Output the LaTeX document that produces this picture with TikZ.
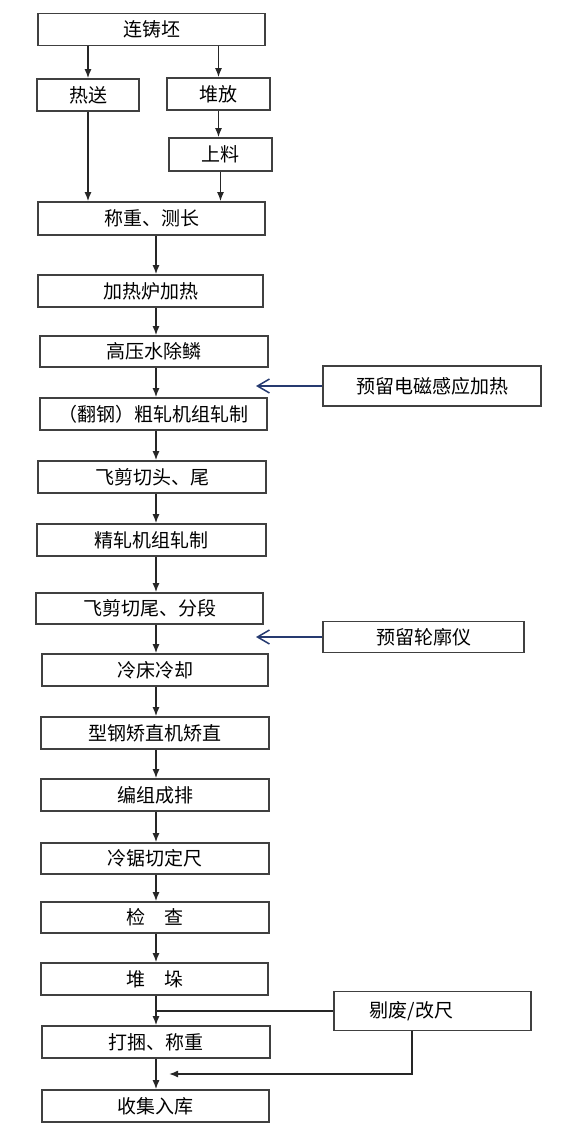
\documentclass[tikz,border=0pt]{standalone}
\usepackage{fontspec}
\usepackage{xcolor}
\usepackage{tikz}
\usetikzlibrary{arrows.meta}
\newfontfamily\cjk{Noto Sans CJK SC}
\definecolor{navyline}{RGB}{38,58,112}

\begin{document}
\begin{tikzpicture}[x=1pt,y=-1pt,
    box/.style={draw=black!75,line width=1.6pt,minimum height=32pt,inner sep=0pt,font=\cjk\fontsize{19}{21}\selectfont},
    arr/.style={line width=1.5pt,draw=black!85,-{Latex[length=9pt,width=7pt]}},
    sidearr/.style={line width=1.5pt,draw=navyline,-{Straight Barb[length=12pt,width=14pt]}}]
            \useasboundingbox (0,0) rectangle (562,1132);
            \coordinate (spine) at (156,0);
            \coordinate (sidein) at (256,0);
            \coordinate (back) at (169,1074);

            % main line
            \node[box,minimum width=227pt] (lianzhu) at (151.5,29.5) {连铸坯};
            \node[box,minimum width=102pt] (resong) at (88,95) {热送};
            \node[box,minimum width=103pt] (duifang) at (218.5,94) {堆放};
            \node[box,minimum width=103pt,minimum height=33pt] (shangliao) at (220.5,154.5) {上料};
            \node[box,minimum width=227pt,minimum height=33pt] (chengzhong) at (151.5,218.5) {称重、测长};
            \node[box,minimum width=225pt] (jiare) at (150.5,291) {加热炉加热};
            \node[box,minimum width=228pt,minimum height=31pt] (chulin) at (154,351.5) {高压水除鳞};
            \node[box,minimum width=227pt] (cuzha) at (153.5,414) {（翻钢）粗轧机组轧制};
            \node[box,minimum width=228pt] (qietou) at (152,477) {飞剪切头、尾};
            \node[box,minimum width=229pt] (jingzha) at (151.5,540) {精轧机组轧制};
            \node[box,minimum width=227pt,minimum height=31pt] (fenduan) at (149.5,608.5) {飞剪切尾、分段};
            \node[box,minimum width=226pt] (lengchuang) at (155,670) {冷床冷却};
            \node[box,minimum width=228pt] (jiaozhi) at (155,733) {型钢矫直机矫直};
            \node[box,minimum width=228pt] (biancheng) at (155,795) {编组成排};
            \node[box,minimum width=228pt,minimum height=31pt] (lengju) at (155,858.5) {冷锯切定尺};
            \node[box,minimum width=228pt,minimum height=31pt] (jiancha) at (155,917.5) {检\quad 查};
            \node[box,minimum width=227pt] (duiduo) at (154.5,979) {堆\quad 垛};
            \node[box,minimum width=228pt] (dakun) at (156,1042) {打捆、称重};
            \node[box,minimum width=227pt] (ruku) at (155.5,1106) {收集入库};

            % side boxes
            \node[box,minimum width=218pt,minimum height=40pt] (diancigan) at (432,386) {预留电磁感应加热};
            \node[box,minimum width=201pt,minimum height=31pt] (lunkuo) at (423.5,637) {预留轮廓仪};
            \node[box,minimum width=197pt,minimum height=39pt] (tifei) at (432.5,1011) {剔废/改尺\hspace*{42pt}};

            \draw[arr] (lianzhu.south -| resong.north) -- (resong.north);
            \draw[arr] (lianzhu.south -| duifang.north) -- (duifang.north);
            \draw[arr] (resong.south) -- (resong.south |- chengzhong.north);
            \draw[arr] (duifang.south) -- (duifang.south |- shangliao.north);
            \draw[arr] (shangliao.south) -- (shangliao.south |- chengzhong.north);

            \draw[arr] (chengzhong.south -| spine) -- (jiare.north -| spine);
            \draw[arr] (jiare.south -| spine) -- (chulin.north -| spine);
            \draw[arr] (chulin.south -| spine) -- (cuzha.north -| spine);
            \draw[arr] (cuzha.south -| spine) -- (qietou.north -| spine);
            \draw[arr] (qietou.south -| spine) -- (jingzha.north -| spine);
            \draw[arr] (jingzha.south -| spine) -- (fenduan.north -| spine);
            \draw[arr] (fenduan.south -| spine) -- (lengchuang.north -| spine);
            \draw[arr] (lengchuang.south -| spine) -- (jiaozhi.north -| spine);
            \draw[arr] (jiaozhi.south -| spine) -- (biancheng.north -| spine);
            \draw[arr] (biancheng.south -| spine) -- (lengju.north -| spine);
            \draw[arr] (lengju.south -| spine) -- (jiancha.north -| spine);
            \draw[arr] (jiancha.south -| spine) -- (duiduo.north -| spine);
            \draw[arr] (duiduo.south -| spine) -- (dakun.north -| spine);
            \draw[arr] (dakun.south -| spine) -- (ruku.north -| spine);

            \draw[sidearr] (diancigan.west) -- (diancigan.west -| sidein);
            \draw[sidearr] (lunkuo.west) -- (lunkuo.west -| sidein);

            \draw[line width=1.5pt,draw=black!85] (tifei.west) -- (tifei.west -| spine);
            \draw[arr] ([xshift=-20.5pt]tifei.south) |- (back);
        \end{tikzpicture}
\end{document}
